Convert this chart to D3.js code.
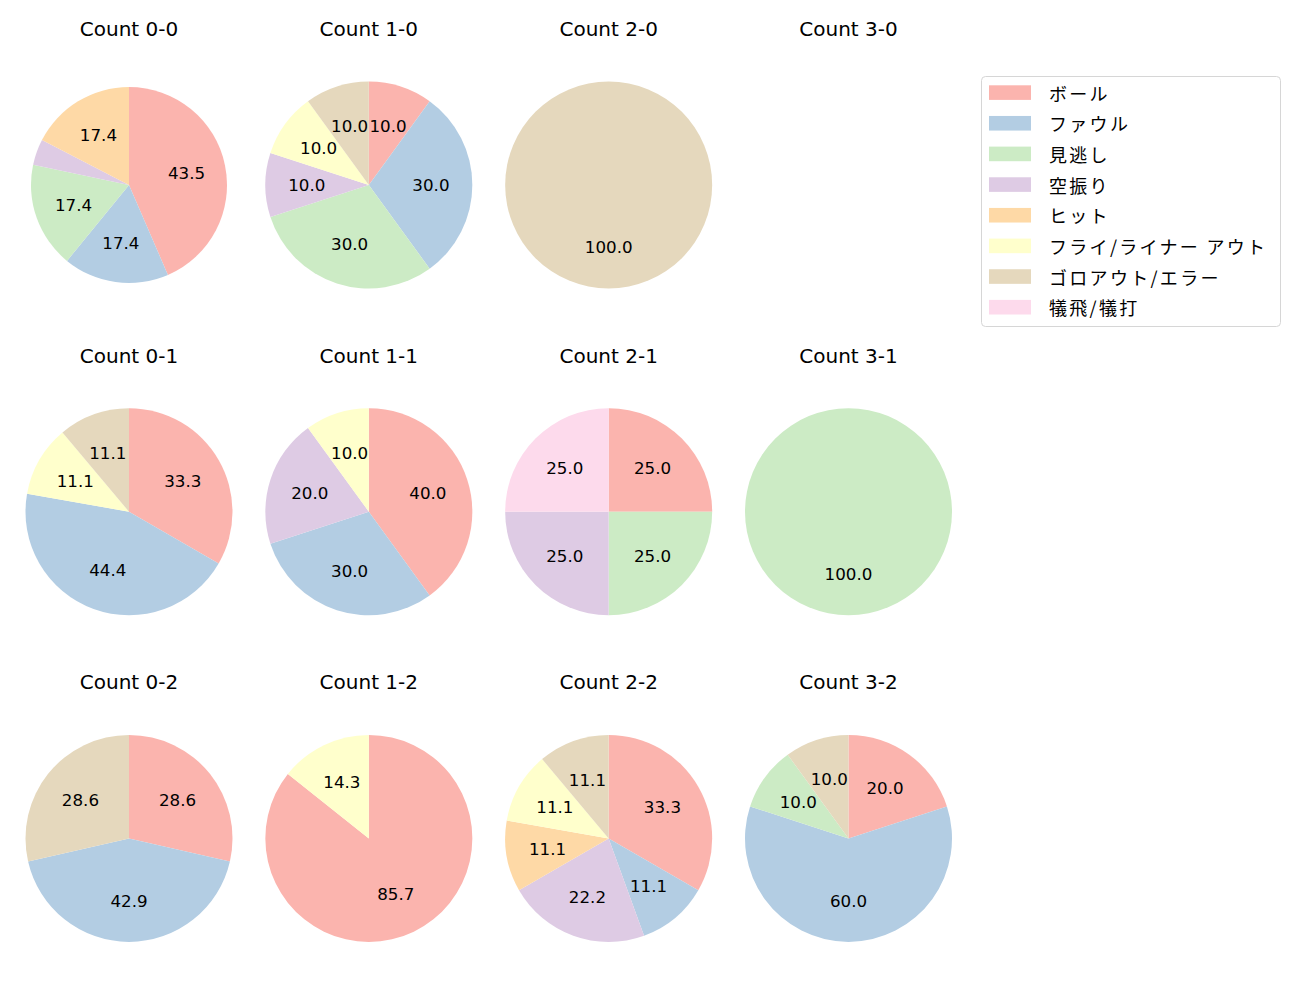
<!DOCTYPE html>
<html>
<head>
<meta charset="utf-8">
<script src="https://cdn.jsdelivr.net/npm/d3@7"></script>
<style>
  body { margin: 0; background: #fff; }
  svg text { font-family: "DejaVu Sans", "Noto Sans CJK JP", sans-serif; fill: #000; }
  svg text.leg { font-family: "Noto Sans CJK JP", sans-serif; }
</style>
</head>
<body>
<svg id="chart" width="1300" height="1000"></svg>
<script>
// ---- data ----
const categories = ["ボール", "ファウル", "見逃し", "空振り", "ヒット", "フライ/ライナー アウト", "ゴロアウト/エラー", "犠飛/犠打"];
const colors = ["#fbb4ae", "#b3cde3", "#ccebc5", "#decbe4", "#fed9a6", "#ffffcc", "#e5d8bd", "#fddaec"];
const countTitles = ["Count 0-0", "Count 1-0", "Count 2-0", "Count 3-0",
                     "Count 0-1", "Count 1-1", "Count 2-1", "Count 3-1",
                     "Count 0-2", "Count 1-2", "Count 2-2", "Count 3-2"];
const count00 = [43.5, 17.4, 17.4, 4.3, 17.4, 0, 0, 0];
const count10 = [10.0, 30.0, 30.0, 10.0, 0, 10.0, 10.0, 0];
const count20 = [0, 0, 0, 0, 0, 0, 100.0, 0];
const count30 = [];
const count01 = [33.3, 44.4, 0, 0, 0, 11.1, 11.1, 0];
const count11 = [40.0, 30.0, 0, 20.0, 0, 10.0, 0, 0];
const count21 = [25.0, 0, 25.0, 25.0, 0, 0, 0, 25.0];
const count31 = [0, 0, 100.0, 0, 0, 0, 0, 0];
const count02 = [28.6, 42.9, 0, 0, 0, 0, 28.6, 0];
const count12 = [85.7, 0, 0, 0, 0, 14.3, 0, 0];
const count22 = [33.3, 11.1, 0, 22.2, 11.1, 11.1, 11.1, 0];
const count32 = [20.0, 60.0, 10.0, 0, 0, 0, 10.0, 0];
const countValues = [count00, count10, count20, count30,
                     count01, count11, count21, count31,
                     count02, count12, count22, count32];

// ---- layout ----
const colX = d3.scaleLinear().domain([0, 3]).range([129, 848.5]);
const rowY = d3.scaleLinear().domain([0, 2]).range([185, 838.4]);
const baseRadius = 103.5;
const radiusOverride = { "Count 0-0": 98 };
const labelMin = 5;

const svg = d3.select("#chart");
const color = d3.scaleOrdinal().domain(categories).range(colors);
const pie = d3.pie().sort(null).value(d => d.value).startAngle(0).endAngle(2 * Math.PI);

countTitles.forEach((title, i) => {
  const col = i % 4, row = Math.floor(i / 4);
  const cx = colX(col), cy = rowY(row);
  const r = radiusOverride[title] || baseRadius;
  const g = svg.append("g").attr("transform", `translate(${cx},${cy})`);

  svg.append("text")
    .attr("x", cx).attr("y", cy - 156 + 7)
    .attr("text-anchor", "middle")
    .style("font-size", "20px")
    .text(title);

  const vals = countValues[i];
  if (!vals.length) return;
  const entries = categories.map((c, k) => ({ cat: c, value: vals[k] })).filter(d => d.value > 0);
  const arcs = pie(entries);
  const arc = d3.arc().innerRadius(0).outerRadius(r);
  const labelArc = d3.arc().innerRadius(r * 0.6).outerRadius(r * 0.6);

  g.selectAll("path").data(arcs).join("path")
    .attr("d", arc)
    .attr("fill", d => color(d.data.cat));

  g.selectAll("text").data(arcs.filter(d => d.data.value >= labelMin)).join("text")
    .attr("transform", d => { const c = labelArc.centroid(d); return `translate(${c[0]},${c[1] + 6})`; })
    .attr("text-anchor", "middle")
    .style("font-size", "16.7px")
    .text(d => d.data.value.toFixed(1));
});

// ---- legend ----
const lg = svg.append("g");
lg.append("rect")
  .attr("x", 981.5).attr("y", 76.5).attr("width", 299).attr("height", 250)
  .attr("rx", 4).attr("fill", "#fff").attr("stroke", "#d6d6d6").attr("stroke-width", 1);
const ly = d3.scaleLinear().domain([0, categories.length - 1]).range([92.6, 307.2]);
categories.forEach((c, k) => {
  lg.append("rect").attr("x", 989).attr("y", ly(k) - 7.3).attr("width", 42).attr("height", 14.6)
    .attr("fill", color(c));
  lg.append("text").attr("class", "leg").attr("x", 1049).attr("y", ly(k))
    .attr("dominant-baseline", "central")
    .style("font-size", "18px")
    .style("letter-spacing", "2.3px")
    .text(c);
});
</script>
</body>
</html>
